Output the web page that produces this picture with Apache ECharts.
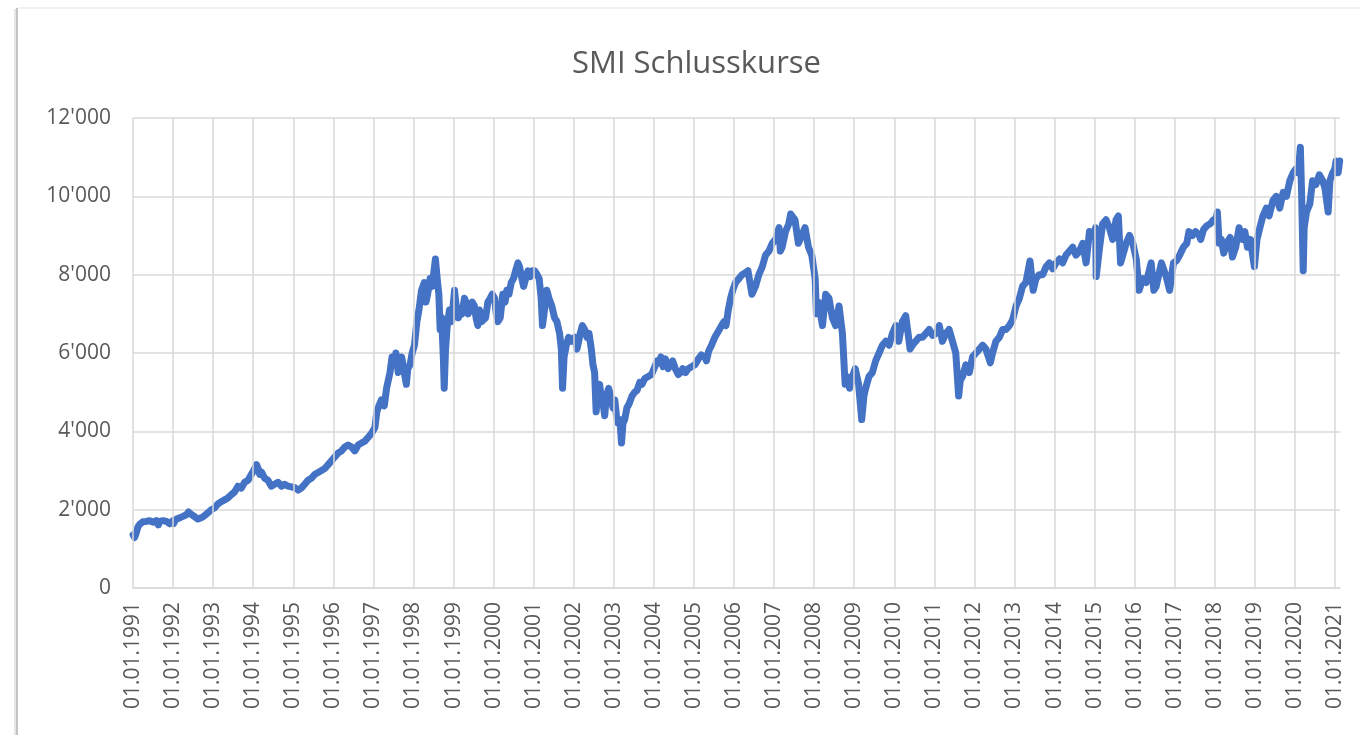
<!DOCTYPE html>
<html>
<head>
<meta charset="utf-8">
<script src="https://cdn.jsdelivr.net/npm/echarts@6/dist/echarts.min.js"></script>
<style>
html,body{margin:0;padding:0;background:#fff;}
#chart{width:1361px;height:735px;}
</style>
</head>
<body>
<div id="chart"></div>
<script>
const chartTitle = 'SMI Schlusskurse';
const yTicks = [0, 2000, 4000, 6000, 8000, 10000, 12000];
const yearTicks = [1991,1992,1993,1994,1995,1996,1997,1998,1999,2000,2001,2002,2003,2004,2005,2006,2007,2008,2009,2010,2011,2012,2013,2014,2015,2016,2017,2018,2019,2020,2021];
const axisEnd = '2021-02-15';

const smiCloses = [
['1991-01-02',1360],['1991-01-16',1290],['1991-02-01',1420],['1991-02-15',1560],['1991-03-01',1620],['1991-03-15',1650],['1991-04-01',1690],['1991-05-01',1700],['1991-06-01',1720],['1991-07-01',1680],['1991-08-01',1720],['1991-08-20',1610],['1991-09-01',1700],['1991-10-01',1720],['1991-11-01',1700],['1991-12-01',1640],['1991-12-31',1720],
['1992-01-05',1640],['1992-01-15',1700],['1992-02-01',1760],['1992-03-01',1790],['1992-04-01',1830],['1992-05-01',1870],['1992-05-20',1940],['1992-06-15',1880],['1992-07-15',1820],['1992-08-15',1760],['1992-09-01',1730],['1992-09-20',1800],['1992-10-15',1850],['1992-11-15',1920],['1992-12-15',2000],
['1993-01-15',2050],['1993-02-15',2150],['1993-03-15',2200],['1993-04-15',2250],['1993-05-15',2300],['1993-06-15',2380],['1993-07-15',2450],['1993-08-15',2600],['1993-09-15',2550],['1993-10-15',2700],['1993-11-15',2750],['1993-12-15',2900],
['1994-01-05',3000],['1994-01-31',3150],['1994-02-15',3050],['1994-03-01',2900],['1994-03-20',2950],['1994-04-15',2800],['1994-05-15',2750],['1994-06-15',2600],['1994-07-15',2650],['1994-08-15',2700],['1994-09-15',2600],['1994-10-15',2650],['1994-11-15',2600],['1994-12-15',2580],
['1995-01-15',2560],['1995-02-15',2500],['1995-03-15',2550],['1995-04-15',2650],['1995-05-15',2750],['1995-06-15',2800],['1995-07-15',2900],['1995-08-15',2950],['1995-09-15',3000],['1995-10-15',3050],['1995-11-15',3150],['1995-12-15',3250],
['1996-01-15',3350],['1996-02-15',3450],['1996-03-15',3500],['1996-04-15',3600],['1996-05-15',3650],['1996-06-15',3600],['1996-07-15',3500],['1996-08-15',3650],['1996-09-15',3700],['1996-10-15',3750],['1996-11-15',3850],['1996-12-15',3950],
['1997-01-15',4100],['1997-02-01',4500],['1997-02-20',4650],['1997-03-15',4800],['1997-04-10',4650],['1997-05-01',5100],['1997-06-01',5500],['1997-06-20',5900],['1997-07-10',5700],['1997-07-25',6000],['1997-08-15',5500],['1997-09-01',5600],['1997-09-15',5900],['1997-10-01',5950],['1997-10-28',5200],['1997-11-10',5600],['1997-12-01',5700],['1997-12-20',6000],
['1998-01-10',6200],['1998-02-01',6800],['1998-02-20',7100],['1998-03-15',7600],['1998-04-10',7800],['1998-04-25',7300],['1998-05-10',7500],['1998-06-01',7900],['1998-06-20',7700],['1998-07-20',8400],['1998-08-05',7900],['1998-08-20',7500],['1998-09-01',6600],['1998-09-15',6900],['1998-10-01',5800],['1998-10-08',5100],['1998-10-20',6100],['1998-11-05',6700],['1998-11-25',7100],['1998-12-15',6800],
['1999-01-10',7600],['1999-01-25',7200],['1999-02-15',6900],['1999-03-01',7100],['1999-03-20',7000],['1999-04-10',7400],['1999-04-25',7300],['1999-05-15',7000],['1999-06-01',7100],['1999-06-20',7300],['1999-07-10',7200],['1999-07-25',6900],['1999-08-10',6700],['1999-08-25',7100],['1999-09-15',6800],['1999-10-01',6750],['1999-10-20',6900],['1999-11-10',7300],['1999-12-01',7400],['1999-12-20',7500],
['2000-01-10',7400],['2000-01-25',7000],['2000-02-10',6800],['2000-03-01',6900],['2000-03-25',7500],['2000-04-15',7300],['2000-05-01',7600],['2000-05-20',7500],['2000-06-10',7800],['2000-07-01',7900],['2000-07-20',8100],['2000-08-10',8300],['2000-08-25',8200],['2000-09-15',7900],['2000-10-01',7700],['2000-10-20',7900],['2000-11-10',8100],['2000-12-01',7950],['2000-12-20',8100],
['2001-01-10',8100],['2001-02-01',8000],['2001-02-20',7900],['2001-03-10',7400],['2001-03-22',6700],['2001-04-05',7000],['2001-05-01',7600],['2001-05-20',7400],['2001-06-15',7200],['2001-07-10',6900],['2001-08-01',6800],['2001-08-25',6500],['2001-09-10',6100],['2001-09-21',5100],['2001-10-05',5900],['2001-10-25',6200],['2001-11-15',6400],['2001-12-10',6300],
['2002-01-10',6400],['2002-01-30',6100],['2002-02-15',6300],['2002-03-01',6500],['2002-03-20',6700],['2002-04-10',6600],['2002-05-01',6400],['2002-05-20',6500],['2002-06-10',6100],['2002-06-25',5700],['2002-07-10',5500],['2002-07-24',4500],['2002-08-10',5000],['2002-08-25',5200],['2002-09-10',4800],['2002-09-30',4600],['2002-10-10',4400],['2002-10-25',4900],['2002-11-15',5100],['2002-12-10',4800],['2002-12-25',4600],
['2003-01-10',4800],['2003-01-25',4400],['2003-02-10',4200],['2003-02-25',4300],['2003-03-12',3700],['2003-03-25',4200],['2003-04-10',4300],['2003-04-30',4600],['2003-05-20',4700],['2003-06-15',4900],['2003-07-10',5000],['2003-08-01',5050],['2003-08-25',5250],['2003-09-15',5200],['2003-10-10',5350],['2003-11-10',5400],['2003-12-10',5450],
['2004-01-10',5650],['2004-02-01',5800],['2004-02-20',5750],['2004-03-05',5900],['2004-03-25',5650],['2004-04-15',5850],['2004-05-10',5600],['2004-06-01',5700],['2004-06-20',5800],['2004-07-15',5600],['2004-08-10',5450],['2004-09-01',5500],['2004-09-20',5600],['2004-10-15',5500],['2004-11-10',5600],['2004-12-10',5650],
['2005-01-10',5700],['2005-02-10',5850],['2005-03-10',5950],['2005-04-10',5900],['2005-04-25',5800],['2005-05-15',6050],['2005-06-10',6200],['2005-07-10',6400],['2005-08-10',6550],['2005-09-10',6700],['2005-10-01',6800],['2005-10-20',6700],['2005-11-10',7100],['2005-12-01',7400],['2005-12-20',7600],
['2006-01-15',7800],['2006-02-15',7900],['2006-03-15',8000],['2006-04-15',8050],['2006-05-08',8100],['2006-06-13',7500],['2006-07-15',7700],['2006-08-15',8000],['2006-09-15',8200],['2006-10-15',8500],['2006-11-15',8600],['2006-12-15',8800],
['2007-01-15',8900],['2007-02-15',9200],['2007-02-27',8600],['2007-03-15',8700],['2007-04-15',9100],['2007-05-15',9300],['2007-06-01',9550],['2007-07-10',9400],['2007-08-10',8800],['2007-09-10',9000],['2007-10-10',9200],['2007-11-10',8700],['2007-12-10',8500],
['2008-01-10',7900],['2008-01-22',7000],['2008-02-10',7300],['2008-03-17',6700],['2008-04-15',7500],['2008-05-15',7400],['2008-06-15',6900],['2008-07-15',6700],['2008-08-15',7200],['2008-09-15',6500],['2008-10-10',5200],['2008-10-25',5400],['2008-11-20',5100],['2008-12-15',5400],
['2009-01-10',5600],['2009-02-10',5200],['2009-03-10',4300],['2009-03-30',4900],['2009-04-15',5100],['2009-05-15',5400],['2009-06-15',5500],['2009-07-15',5800],['2009-08-15',6000],['2009-09-15',6200],['2009-10-15',6300],['2009-11-15',6200],['2009-12-15',6500],
['2010-01-15',6700],['2010-02-10',6300],['2010-03-15',6800],['2010-04-15',6950],['2010-05-25',6100],['2010-06-15',6200],['2010-07-15',6300],['2010-08-15',6400],['2010-09-15',6400],['2010-10-15',6500],['2010-11-15',6600],['2010-12-15',6450],
['2011-01-15',6500],['2011-02-15',6700],['2011-03-15',6300],['2011-04-15',6500],['2011-05-15',6600],['2011-06-15',6300],['2011-07-15',6000],['2011-08-10',4900],['2011-08-25',5300],['2011-09-15',5400],['2011-10-15',5700],['2011-11-15',5500],['2011-12-15',5900],
['2012-01-15',6000],['2012-02-15',6100],['2012-03-15',6200],['2012-04-15',6100],['2012-05-25',5750],['2012-06-15',6000],['2012-07-15',6300],['2012-08-15',6400],['2012-09-15',6600],['2012-10-15',6600],['2012-11-15',6700],['2012-12-15',6850],
['2013-01-15',7200],['2013-02-15',7400],['2013-03-15',7700],['2013-04-15',7800],['2013-05-22',8350],['2013-06-20',7600],['2013-07-15',7900],['2013-08-15',8000],['2013-09-15',8000],['2013-10-15',8200],['2013-11-15',8300],['2013-12-15',8150],
['2014-01-15',8300],['2014-02-15',8400],['2014-03-15',8300],['2014-04-15',8500],['2014-05-15',8600],['2014-06-15',8700],['2014-07-15',8500],['2014-08-15',8600],['2014-09-15',8800],['2014-10-15',8300],['2014-11-15',9100],['2014-12-15',9000],
['2015-01-10',9200],['2015-01-15',7950],['2015-02-15',8700],['2015-03-15',9300],['2015-04-15',9400],['2015-05-15',9200],['2015-06-15',8900],['2015-07-15',9400],['2015-08-05',9500],['2015-08-25',8300],['2015-09-15',8500],['2015-10-15',8800],['2015-11-15',9000],['2015-12-15',8800],
['2016-01-15',8400],['2016-02-11',7600],['2016-03-15',7900],['2016-04-15',7800],['2016-05-30',8300],['2016-06-24',7600],['2016-07-15',7700],['2016-09-01',8300],['2016-10-15',7950],['2016-11-15',7600],['2016-12-20',8300],
['2017-01-15',8350],['2017-02-15',8500],['2017-03-20',8700],['2017-04-20',8800],['2017-05-10',9100],['2017-06-10',9000],['2017-07-10',9100],['2017-08-10',9000],['2017-08-25',8900],['2017-09-20',9150],['2017-10-20',9250],['2017-11-20',9300],['2017-12-20',9400],
['2018-01-10',9400],['2018-01-24',9600],['2018-02-09',8800],['2018-03-01',8900],['2018-03-23',8550],['2018-04-20',8800],['2018-05-20',8950],['2018-06-10',8450],['2018-07-10',8700],['2018-08-10',9200],['2018-09-10',8900],['2018-10-01',9100],['2018-10-25',8700],['2018-11-20',8900],['2018-12-27',8200],
['2019-01-20',8900],['2019-02-15',9200],['2019-03-15',9500],['2019-04-15',9700],['2019-05-10',9500],['2019-06-15',9900],['2019-07-15',10000],['2019-08-15',9700],['2019-09-15',10100],['2019-10-15',10000],['2019-11-15',10400],['2019-12-15',10600],
['2020-01-10',10700],['2020-01-31',10600],['2020-02-19',11250],['2020-03-02',10000],['2020-03-16',8100],['2020-03-25',9200],['2020-04-15',9600],['2020-05-15',9800],['2020-06-10',10400],['2020-07-10',10300],['2020-08-10',10550],['2020-09-10',10400],['2020-10-01',10200],['2020-10-30',9600],['2020-11-15',10400],['2020-12-10',10600],['2020-12-30',10700],
['2021-01-10',10900],['2021-01-29',10600],['2021-02-12',10900]
];

function decimalYear(s) {
  const p = s.split('-').map(Number);
  const y = p[0];
  const start = Date.UTC(y, 0, 1), next = Date.UTC(y + 1, 0, 1);
  return y + (Date.UTC(y, p[1] - 1, p[2]) - start) / (next - start);
}

const lineData = smiCloses.map(d => [decimalYear(d[0]), d[1]]);
const fontFamily = '"Open Sans", "Noto Sans", sans-serif';
const textColor = '#595959';
const gridColor = '#d9d9d9';

function fmtThousands(v) {
  return String(v).replace(/\B(?=(\d{3})+(?!\d))/g, "'");
}

const chart = echarts.init(document.getElementById('chart'));
chart.setOption({
  animation: false,
  backgroundColor: '#ffffff',
  title: {
    text: chartTitle,
    left: 572,
    top: 49,
    padding: 0,
    textStyle: { fontFamily: fontFamily, fontSize: 31, fontWeight: 'normal', color: textColor }
  },
  graphic: [
    { type: 'line', shape: { x1: 15, y1: 9, x2: 15, y2: 735 }, style: { stroke: '#e6e6e6', lineWidth: 2 }, silent: true },
    { type: 'line', shape: { x1: 17, y1: 8, x2: 17, y2: 735 }, style: { stroke: '#c4c4c4', lineWidth: 2 }, silent: true },
    { type: 'line', shape: { x1: 18, y1: 8, x2: 1361, y2: 8 }, style: { stroke: '#ececec', lineWidth: 1.5 }, silent: true }
  ],
  grid: { left: 133, top: 118, right: 21, bottom: 147, containLabel: false },
  xAxis: {
    type: 'value',
    min: yearTicks[0],
    max: decimalYear(axisEnd),
    interval: 1,
    splitLine: { show: false },
    axisTick: { show: false },
    axisLine: { show: true, lineStyle: { color: gridColor, width: 1.5 } },
    axisLabel: {
      rotate: 90,
      margin: 14,
      color: textColor,
      fontFamily: fontFamily,
      fontSize: 21,
      showMaxLabel: false,
      formatter: function (v) {
        return yearTicks.indexOf(v) >= 0 ? '01.01.' + v : '';
      }
    }
  },
  yAxis: {
    type: 'value',
    min: yTicks[0],
    max: yTicks[yTicks.length - 1],
    interval: yTicks[1] - yTicks[0],
    axisLine: { show: false },
    axisTick: { show: false },
    splitLine: { show: true, lineStyle: { color: gridColor, width: 1.5 } },
    axisLabel: {
      margin: 22,
      color: textColor,
      fontFamily: fontFamily,
      fontSize: 21,
      formatter: function (v) { return fmtThousands(v); }
    }
  },
  series: [
    {
      type: 'line',
      data: [],
      z: 1,
      silent: true,
      markLine: {
        silent: true,
        symbol: ['none', 'none'],
        label: { show: false },
        lineStyle: { color: gridColor, width: 1.5, type: 'solid' },
        emphasis: { disabled: true },
        data: yearTicks.map(y => ({ xAxis: y }))
      }
    },
    {
      name: 'SMI',
      type: 'line',
      z: 3,
      data: lineData,
      showSymbol: false,
      symbol: 'none',
      clip: false,
      lineStyle: { color: '#4472C4', width: 7, join: 'round', cap: 'round' },
      itemStyle: { color: '#4472C4' }
    }
  ]
});
</script>
</body>
</html>
